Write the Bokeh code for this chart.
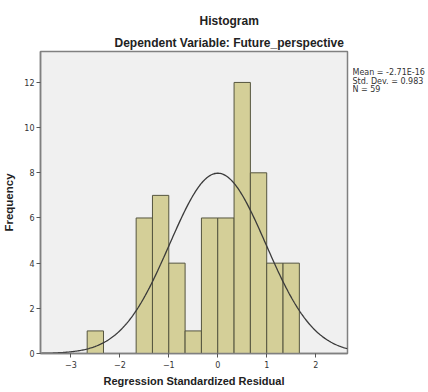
import numpy as np
from bokeh.plotting import figure
from bokeh.models import Range1d, FixedTicker, Title
from bokeh.layouts import row
from bokeh.core.properties import value
from bokeh.embed import file_html
from bokeh.resources import INLINE

# Data
bin_left = [-8/3, -5/3, -4/3, -1, -2/3, -1/3, 0, 1/3, 2/3, 1, 4/3]
bin_right = [-7/3, -4/3, -1, -2/3, -1/3, 0, 1/3, 2/3, 1, 4/3, 5/3]
counts = [1, 6, 7, 4, 1, 6, 6, 12, 8, 4, 4]
mean_val = -2.71e-16
std_val = 0.983
n_val = 59
bin_width = 1/3
x_ticks = [-3, -2, -1, 0, 1, 2]
y_ticks = [0, 2, 4, 6, 8, 10, 12]
stats_text = ["Mean = -2.71E-16", "Std. Dev. = 0.983", "N = 59"]

SMALL = "DejaVu Sans"
BOLD = "Liberation Sans"

yr = Range1d(0, 13.37)
p = figure(frame_width=307, frame_height=302, output_backend="svg", toolbar_location=None,
           x_range=Range1d(-3.62, 2.65), y_range=yr,
           min_border_left=34, min_border_right=5, min_border_top=51, min_border_bottom=31)
p.background_fill_color = "#f0f0f0"
p.border_fill_color = "white"
p.outline_line_color = "#808080"
p.outline_line_width = 1.5
p.grid.visible = False

p.quad(left=bin_left, right=bin_right, bottom=0, top=counts,
       fill_color="#d4cf98", line_color="#55553f", line_width=1)

xs = np.linspace(-3.62, 2.65, 300)
ys = n_val * bin_width / (std_val * np.sqrt(2 * np.pi)) * np.exp(-0.5 * ((xs - mean_val) / std_val) ** 2)
p.line(xs, ys, line_color="#3a3a3a", line_width=1.3)

for ax in (p.xaxis, p.yaxis):
    ax.axis_line_color = "#808080"
    ax.axis_line_width = 1.5
    ax.major_tick_line_color = "#555555"
    ax.major_tick_out = 4
    ax.major_tick_in = 0
    ax.minor_tick_line_color = None
    ax.major_label_text_font = SMALL
    ax.major_label_text_font_size = "8px"
    ax.major_label_text_color = "#333333"
    ax.axis_label_text_font = BOLD
    ax.axis_label_text_font_style = "bold"
    ax.axis_label_text_color = "#222222"

p.xaxis.ticker = FixedTicker(ticks=x_ticks)
p.yaxis.ticker = FixedTicker(ticks=y_ticks)
p.xaxis.axis_label = "Regression Standardized Residual"
p.yaxis.axis_label = "Frequency"
p.xaxis.axis_label_text_font_size = "11px"
p.yaxis.axis_label_text_font_size = "11.5px"
p.xaxis.axis_label_standoff = 4
p.yaxis.axis_label_standoff = 6
p.xaxis.major_label_standoff = 3
p.yaxis.major_label_standoff = 2

p.add_layout(Title(text="Dependent Variable: Future_perspective", align="left", offset=74,
                   text_font=BOLD, text_font_style="bold", text_font_size="12px",
                   text_color="#222222", standoff=3), "above")
p.add_layout(Title(text="Histogram", align="left", offset=159,
                   text_font=BOLD, text_font_style="bold", text_font_size="12px",
                   text_color="#222222", standoff=10), "above")

side = figure(frame_width=75, frame_height=302, output_backend="svg", toolbar_location=None,
              x_range=Range1d(0, 75), y_range=yr,
              x_axis_type=None, y_axis_type=None, min_border=0)
side.outline_line_color = None
side.grid.visible = False
side.background_fill_color = "white"
side.border_fill_color = "white"
side.text(x=[0, 0, 0], y=[12.44, 12.06, 11.69], text=stats_text, text_font=value(SMALL),
          text_font_size="8px", text_color="#333333", text_baseline="middle", text_align="left")

layout = row(p, side)
open("out.html", "w").write(file_html(layout, INLINE))
